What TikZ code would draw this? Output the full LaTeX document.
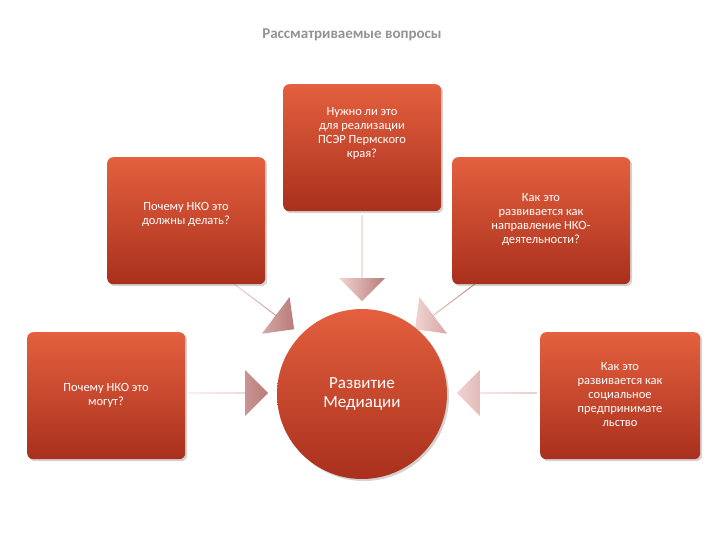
\documentclass[tikz,border=0pt]{standalone}
\usepackage{fontspec}
\setmainfont{Carlito}
\usetikzlibrary{shapes.arrows,shadows}
\definecolor{rtop}{HTML}{E4603E}
\definecolor{rbot}{HTML}{A9301D}
\definecolor{alight}{HTML}{F2D4D2}
\definecolor{adark}{HTML}{B77C78}
\begin{document}
\begin{tikzpicture}[x=1pt,y=-1pt,
  box/.style={draw=none,rounded corners=6pt,top color=rtop,bottom color=rbot,
    drop shadow={opacity=0.35,shadow xshift=2pt,shadow yshift=-2pt},
    text=white,font=\fontsize{12.5}{14}\selectfont,align=center,inner sep=3pt},
  barrow/.style={single arrow,draw=none,left color=alight,right color=adark,
    minimum width=46pt,single arrow head extend=10pt,inner sep=0pt,
    single arrow tip angle=90,anchor=center}]
\useasboundingbox (0,0) rectangle (720,540);
\node[font=\bfseries\fontsize{15}{17}\selectfont,text=gray!85] (title) at (352,35) {Рассматриваемые вопросы};
% arrows
\node[barrow,minimum height=86pt,rotate=-90] (a1) at (362,258) {};
\node[barrow,minimum height=80pt,rotate=-37] (a2) at (262,305) {};
\node[barrow,minimum height=80pt,rotate=-143] (a3) at (447,305) {};
\node[barrow,minimum height=80pt,rotate=0] (a4) at (228,393) {};
\node[barrow,minimum height=80pt,rotate=180] (a5) at (497,393) {};
% boxes
\node[box,minimum width=158pt,minimum height=127pt,anchor=north west] (b1) at (283,84) {};
\node[text=white,font=\fontsize{12.5}{14}\selectfont,align=center,anchor=north] (t1) at (362,104) {Нужно ли это\\для реализации\\ПСЭР Пермского\\края?};
\node[box,minimum width=158pt,minimum height=127pt,anchor=north west] (b2) at (107,157) {};
\node[text=white,font=\fontsize{12.5}{14}\selectfont,align=center,anchor=north] (t2) at (186,199) {Почему НКО это\\должны делать?};
\node[box,minimum width=178pt,minimum height=127pt,anchor=north west] (b3) at (452,157) {};
\node[text=white,font=\fontsize{12.5}{14}\selectfont,align=center] (t3) at (541,220) {Как это\\развивается как\\направление НКО-\\деятельности?};
\node[box,minimum width=158pt,minimum height=127pt,anchor=north west] (b4) at (27,332) {};
\node[text=white,font=\fontsize{12.5}{14}\selectfont,align=center] (t4) at (106,395) {Почему НКО это\\могут?};
\node[box,minimum width=160pt,minimum height=127pt,anchor=north west] (b5) at (540,332) {};
\node[text=white,font=\fontsize{12.5}{14}\selectfont,align=center] (t5) at (620,395) {Как это\\развивается как\\социальное\\предпринимате\\льство};
\node[circle,minimum size=170pt,top color=rtop,bottom color=rbot,
  drop shadow={opacity=0.35,shadow xshift=2pt,shadow yshift=-2pt},
  text=white,font=\fontsize{17}{19}\selectfont,align=center] (c) at (362,394) {Развитие\\Медиации};
\end{tikzpicture}
\end{document}
